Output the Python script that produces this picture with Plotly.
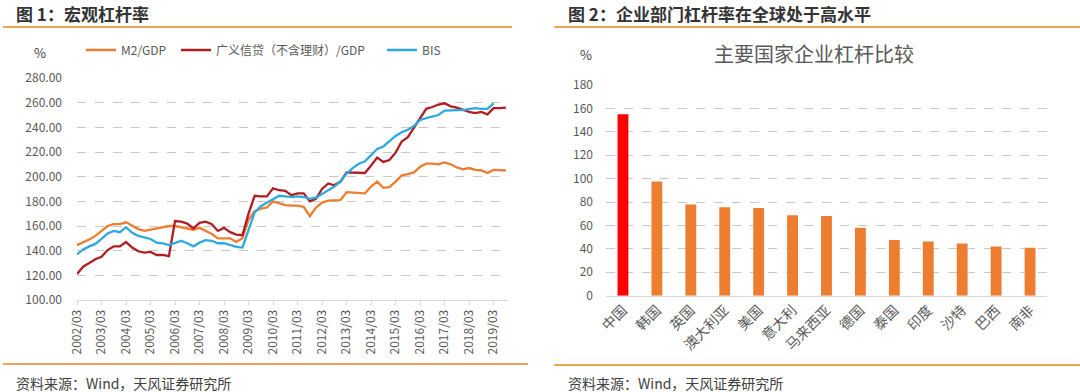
import plotly.graph_objects as go

# ---------------- data ----------------
quarters = [f"{y}/{m:02d}" for y in range(2002, 2020) for m in (3, 6, 9, 12)][:71]
year_ticks = [f"{y}/03" for y in range(2002, 2020)]

m2_gdp = [144.5, 146.5, 149, 152, 156, 160, 161.5, 161.5, 163, 160.5, 157.5, 156,
          157, 158, 159, 160, 160, 159, 157.5, 157, 158.5, 156, 153.5, 150,
          150, 150, 147, 150, 165, 172, 174, 175, 180, 178.5, 177, 176.5,
          176.5, 175.5, 168, 175,
          179, 180.5, 180.5, 181, 187.5, 187, 186.5, 186.5, 192, 196, 191, 191.5,
          196, 201, 202, 203.5, 208, 210.5, 210.5, 210, 211.5, 210, 207.5, 206,
          207, 205.5, 205, 203, 205.5, 205.5, 205]

credit_gdp = [121, 127, 130, 133, 135, 140.5, 143.5, 143.5, 147, 142.5, 139.5, 138.5,
              139, 136.5, 136.5, 135.5, 164, 163.5, 162, 158, 162.5, 163.5, 161.5, 156,
              158.5, 155, 153, 152.5, 170, 184.5, 184, 184, 190.5, 189, 188.5, 185,
              186.5, 186.5, 180, 182,
              190, 194.5, 193, 196, 203.5, 203.5, 203, 203, 209, 215.5, 212, 213.5,
              219.5, 228.5, 232, 240, 247.5, 255, 256.5, 258.5, 259.5, 257, 256, 254,
              252.5, 251.5, 252.5, 250.5, 255.5, 255.5, 256]

bis = [137, 141, 143.5, 145.5, 149.5, 154, 156, 155, 159, 154.5, 152, 151,
       149.5, 146.5, 146, 144.5, 146.5, 148, 146, 143.5, 146.5, 148.5, 148, 146,
       146, 144.5, 143, 142.5, 157, 171, 176, 179, 182, 184.5, 184, 183.5,
       184, 183.5, 182, 183,
       186, 189, 192, 196, 202.5, 207, 210.5, 212.5, 217.5, 222.5, 224.5, 228.5,
       233, 236, 238, 241, 246, 247.5, 249, 250, 253.5, 254, 254, 254,
       254.5, 255.5, 255, 255, 259.5]

countries = ["中国", "韩国", "英国", "澳大利亚", "美国", "意大利", "马来西亚",
             "德国", "泰国", "印度", "沙特", "巴西", "南非"]
corp_leverage = [155, 97.5, 78, 75.5, 75, 68.7, 68, 58, 47.6, 46.2, 44.5, 42, 41]

left_yticks = [100, 120, 140, 160, 180, 200, 220, 240, 260, 280]
right_yticks = [0, 20, 40, 60, 80, 100, 120, 140, 160, 180]

# ---------------- styles ----------------
FONT = "Noto Sans CJK SC"
TICK_COLOR = "#595959"
GRID = "#C8C8C8"
ORANGE_LINE = "#ED7D31"
RED_LINE = "#B01E23"
BLUE_LINE = "#2EA9DF"
BAR_ORANGE = "#ED7D31"
BAR_RED = "#FF0000"
SEP = "#F2A55A"
W, H = 1080, 392


def px_x(x):
    return x / W


def px_y(y):
    return 1 - y / H


fig = go.Figure()

fig.add_trace(go.Scatter(x=quarters, y=m2_gdp, name="M2/GDP", mode="lines",
                         line=dict(color=ORANGE_LINE, width=2.3),
                         legend="legend", xaxis="x", yaxis="y"))
fig.add_trace(go.Scatter(x=quarters, y=credit_gdp, name="广义信贷（不含理财）/GDP",
                         mode="lines", line=dict(color=RED_LINE, width=2.3),
                         legend="legend2", xaxis="x", yaxis="y"))
fig.add_trace(go.Scatter(x=quarters[:len(bis)], y=bis, name="BIS", mode="lines",
                         line=dict(color=BLUE_LINE, width=2.3),
                         legend="legend3", xaxis="x", yaxis="y"))

bar_colors = [BAR_RED] + [BAR_ORANGE] * (len(countries) - 1)
fig.add_trace(go.Bar(x=countries, y=corp_leverage, marker=dict(color=bar_colors, line=dict(width=0)),
                     showlegend=False, xaxis="x2", yaxis="y2"))


def legend_at(x_px):
    return dict(
        orientation="h",
        x=px_x(x_px), y=px_y(50), xanchor="left", yanchor="middle",
        font=dict(size=12, color=TICK_COLOR, family=FONT),
        bgcolor="rgba(0,0,0,0)",
        itemwidth=30,
    )


fig.update_layout(
    width=W, height=H,
    margin=dict(l=0, r=0, t=0, b=0, autoexpand=False),
    paper_bgcolor="white", plot_bgcolor="white",
    font=dict(family=FONT, color=TICK_COLOR, size=12),
    bargap=0.68,
    xaxis=dict(
        domain=[px_x(77), px_x(508)],
        type="category",
        categoryorder="array", categoryarray=quarters,
        range=[0, 70.35],
        tickmode="array", tickvals=year_ticks, ticktext=year_ticks,
        tickangle=-90,
        tickfont=dict(size=12, color=TICK_COLOR),
        showline=True, linecolor="#D9D9D9", linewidth=1,
        ticks="outside", ticklen=4, tickcolor="#D9D9D9",
        showgrid=False, zeroline=False,
        automargin=False,
        anchor="y",
    ),
    yaxis=dict(
        domain=[px_y(300), px_y(78)],
        range=[100, 280],
        tickvals=left_yticks, tickformat=".2f",
        tickfont=dict(size=12, color=TICK_COLOR),
        showgrid=True, gridcolor=GRID, griddash="dash", gridwidth=1,
        showline=False, zeroline=False,
        ticklabelstandoff=14,
        automargin=False,
        anchor="x",
    ),
    xaxis2=dict(
        domain=[px_x(606), px_x(1047)],
        type="category",
        tickangle=-45,
        tickfont=dict(size=14, color=TICK_COLOR),
        showline=True, linecolor="#D9D9D9", linewidth=1,
        showgrid=False, zeroline=False,
        automargin=False,
        anchor="y2",
    ),
    yaxis2=dict(
        domain=[px_y(295.7), px_y(85)],
        range=[0, 180],
        tickvals=right_yticks,
        tickfont=dict(size=12, color=TICK_COLOR),
        showgrid=True, gridcolor=GRID, griddash="dash", gridwidth=1,
        showline=False, zeroline=False,
        ticklabelstandoff=12,
        automargin=False,
        anchor="x2",
    ),
    legend=legend_at(81),
    legend2=legend_at(176),
    legend3=legend_at(382),
    showlegend=True,
)

annotations = [
    dict(text="<b>图 1：宏观杠杆率</b>", x=px_x(14), y=px_y(13), xanchor="left", yanchor="middle",
         font=dict(size=17, color="#333333")),
    dict(text="<b>图 2：企业部门杠杆率在全球处于高水平</b>", x=px_x(566), y=px_y(13), xanchor="left",
         yanchor="middle", font=dict(size=17, color="#333333")),
    dict(text="%", x=px_x(40), y=px_y(52), xanchor="center", yanchor="middle",
         font=dict(size=13, color="#404040")),
    dict(text="%", x=px_x(586), y=px_y(55), xanchor="center", yanchor="middle",
         font=dict(size=13, color="#404040")),
    dict(text="主要国家企业杠杆比较", x=px_x(814), y=px_y(54), xanchor="center", yanchor="middle",
         font=dict(size=20, color="#595959")),
    dict(text="资料来源：Wind，天风证券研究所", x=px_x(14), y=px_y(383), xanchor="left",
         yanchor="middle", font=dict(size=14, color="#404040")),
    dict(text="资料来源：Wind，天风证券研究所", x=px_x(566), y=px_y(383), xanchor="left",
         yanchor="middle", font=dict(size=14, color="#404040")),
]
for a in annotations:
    a.update(xref="paper", yref="paper", showarrow=False)
fig.update_layout(annotations=annotations)

shapes = [
    dict(type="line", x0=px_x(3), x1=px_x(512), y0=px_y(27), y1=px_y(27),
         line=dict(color=SEP, width=2)),
    dict(type="line", x0=px_x(554), x1=1, y0=px_y(27), y1=px_y(27),
         line=dict(color=SEP, width=2)),
    dict(type="line", x0=px_x(3), x1=px_x(528), y0=px_y(364), y1=px_y(364),
         line=dict(color=SEP, width=2)),
    dict(type="line", x0=px_x(554), x1=1, y0=px_y(365), y1=px_y(365),
         line=dict(color=SEP, width=2)),
]
for s in shapes:
    s.update(xref="paper", yref="paper")
fig.update_layout(shapes=shapes)

fig.write_html(
    "out.html",
    config={"displayModeBar": False},
    post_script="document.body.style.margin='0';document.body.style.padding='0';",
)
